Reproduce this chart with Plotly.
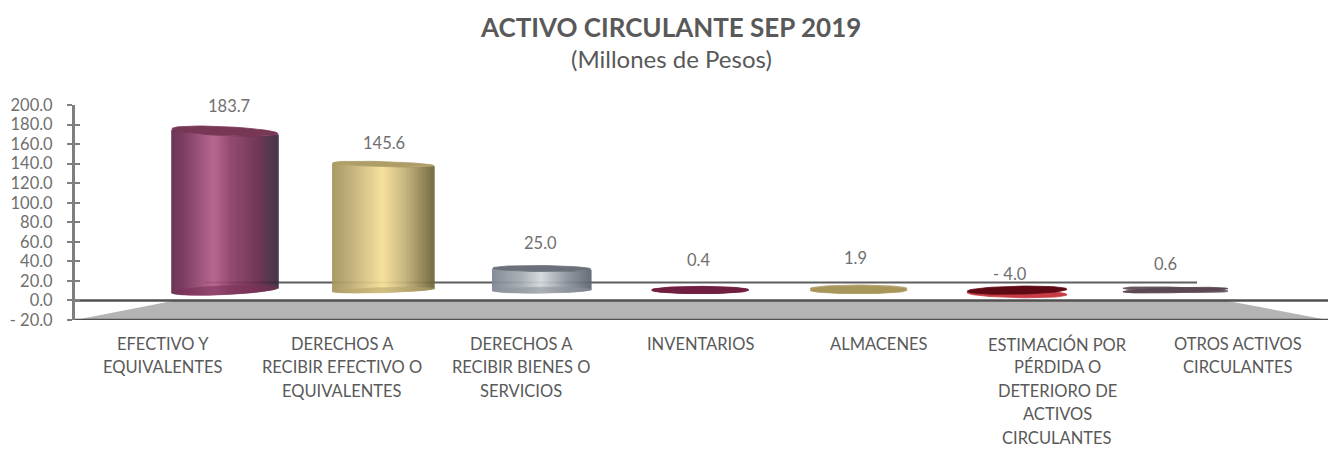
import math
import plotly.graph_objects as go

categories = [
    "EFECTIVO Y\nEQUIVALENTES",
    "DERECHOS A\nRECIBIR EFECTIVO O\nEQUIVALENTES",
    "DERECHOS A\nRECIBIR BIENES O\nSERVICIOS",
    "INVENTARIOS",
    "ALMACENES",
    "ESTIMACIÓN POR\nPÉRDIDA O\nDETERIORO DE\nACTIVOS\nCIRCULANTES",
    "OTROS ACTIVOS\nCIRCULANTES",
]
values = [183.7, 145.6, 25.0, 0.4, 1.9, -4.0, 0.6]
value_labels = ["183.7", "145.6", "25.0", "0.4", "1.9", "- 4.0", "0.6"]
y_ticks = [-20, 0, 20, 40, 60, 80, 100, 120, 140, 160, 180, 200]
y_tick_labels = ["- 20.0", "0.0", "20.0", "40.0", "60.0", "80.0", "100.0",
                 "120.0", "140.0", "160.0", "180.0", "200.0"]

# --- styling / geometry ---
W, H = 1328, 449
L, T, B = 75, 105, 320           # plot box in pixels
PX_PER_CAT = 158.4
X0_PX = 225
x_min = (L - X0_PX) / PX_PER_CAT
x_max = (W - X0_PX) / PX_PER_CAT
Y_MIN, Y_MAX = -20, 200
PX_PER_Y = (B - T) / (Y_MAX - Y_MIN)
BASE = 10.5       # 3-D depth offset of the cylinders' base
SCALE = 0.886     # foreshortening of the value axis in the 3-D scene

cyl_w_px = [106, 101, 98, 97, 97, 100, 105]
label_x_px = [163, 342, 521, 700, 879, 1057, 1238]
val_x_px = [229, 384, 540, 698, 855, 1010, 1165]
val_y_px = [106, 143, 243, 260, 258, 274, 264]
ramps = [
    [(0, "#5f2a48"), (.12, "#76305a"), (.40, "#b25d89"), (.55, "#8f3f68"), (.8, "#6b2a4b"), (1, "#38283a")],
    [(0, "#a39259"), (.15, "#b9a76e"), (.5, "#f6df98"), (.7, "#c9b67a"), (1, "#6f653a")],
    [(0, "#7c8490"), (.3, "#a5abb3"), (.5, "#d4d7db"), (.75, "#8f959d"), (1, "#5f6670")],
    [(0, "#701f40"), (1, "#701f40")],
    [(0, "#a8955a"), (.5, "#d9c67e"), (1, "#a8955a")],
    [(0, "#6a0c18"), (1, "#8a1420")],
    [(0, "#5a4853"), (1, "#4a3a45")],
]
cap_top = ["#6d2747", "#a8955a", "#5f6670", "#701f40", "#a8955a", "#c22b35", "#5a4853"]
cap_bot = ["#7a2f55", "#b5a266", "#8e949c", "#701f40", "#a8955a", "#5e0a15", "#5a4853"]
cap_alpha_bot = [.55, .55, .6, 1, 1, 1, 1]
SEMI_H_PX = [4.5, 2.5, 3, 3.5, 3.5, 4, 2.5]
TILT_PX = [2.5, 1.5, 0.5, 0, 0, 1, 1.5]
FLAT_BELOW = 5     # markers this small are seen as a single disc


def hex2rgb(h):
    return tuple(int(h[i:i + 2], 16) for i in (1, 3, 5))


def ramp(stops, t):
    for (a, ca), (b, cb) in zip(stops, stops[1:]):
        if t <= b:
            f = (t - a) / (b - a) if b > a else 0
            p, q = hex2rgb(ca), hex2rgb(cb)
            return "rgb(%d,%d,%d)" % tuple(round(p[k] + (q[k] - p[k]) * f) for k in range(3))
    return stops[-1][1]


def to_x(px):
    return (px - X0_PX) / PX_PER_CAT


def paper_x(px):
    return (px - L) / (W - L)


def paper_y(py):
    return (B - py) / (B - T)


fig = go.Figure()

# floor of the 3-D scene
fig.add_trace(go.Scatter(
    x=[x_min, to_x(175), to_x(1225), x_max], y=[-20, 0, 0, -20], mode="lines",
    fill="toself", fillcolor="#b4b4b4", line=dict(width=0), hoverinfo="skip",
    showlegend=False, yaxis="y"))
# back-wall base line, seen through the cylinders
fig.add_trace(go.Scatter(
    x=[to_x(205), to_x(1197)], y=[18.5, 18.5], mode="lines",
    line=dict(color="#5f5f5f", width=2), hoverinfo="skip", showlegend=False, yaxis="y"))
# zero line and bottom line
for yy in (0, -20):
    fig.add_trace(go.Scatter(
        x=[x_min, x_max], y=[yy, yy], mode="lines", cliponaxis=False,
        line=dict(color="#505050", width=2.5), hoverinfo="skip", showlegend=False, yaxis="y"))

# cylinders
for i, v in enumerate(values):
    w = cyl_w_px[i] / PX_PER_CAT
    top = BASE + SCALE * v
    a = SEMI_H_PX[i] / PX_PER_Y
    tilt = TILT_PX[i] / PX_PER_Y
    if abs(v) >= FLAT_BELOW:
        n = max(2, cyl_w_px[i] // 2)
        xs, ws, bases, hs, cols = [], [], [], [], []
        for k in range(n):
            t = (k + .5) / n
            u = 2 * t - 1
            arc = a * math.sqrt(max(0, 1 - u * u))
            lo = BASE - arc + tilt * u
            hi = top - arc - tilt * u
            xs.append(i - w / 2 + t * w)
            ws.append(w / n * 1.8)
            bases.append(lo)
            hs.append(max(hi - lo, 0))
            cols.append(ramp(ramps[i], t))
        fig.add_trace(go.Bar(x=xs, y=hs, base=bases, width=ws, marker=dict(color=cols, line=dict(width=0)),
                             opacity=.93, hoverinfo="skip", showlegend=False, yaxis="y2"))
    caps = [(BASE, cap_bot[i], 1, cap_alpha_bot[i]), (top, cap_top[i], -1, .92)]
    for yc, col, sgn, alpha in sorted(caps, key=lambda c: c[0]):
        ex, ey = [], []
        for deg in range(0, 361, 6):
            r = math.radians(deg)
            u = math.cos(r)
            ex.append(i + w / 2 * u)
            ey.append(yc + a * math.sin(r) + sgn * tilt * u)
        fig.add_trace(go.Scatter(x=ex, y=ey, mode="lines", fill="toself", fillcolor=col,
                                 line=dict(width=.8, color=col), opacity=alpha,
                                 hoverinfo="skip", showlegend=False, yaxis="y2"))

annotations = []


def note(px, py, txt, size, color):
    annotations.append(dict(x=paper_x(px), y=paper_y(py), xref="paper", yref="paper", text=txt, showarrow=False,
                            font=dict(family="Lato", size=size, color=color),
                            xanchor="center", yanchor="middle"))


for x_px, y_px, txt in zip(val_x_px, val_y_px, value_labels):
    note(x_px, y_px, txt, 16.5, "#6f6f6f")
for x_px, label in zip(label_x_px, categories):
    for j, line in enumerate(label.split("\n")):
        note(x_px, 344 + 23.4 * j, line, 16.5, "#595959")
note(671, 59, "(Millones de Pesos)", 24, "#595959")
note(670.5, 27, "<b>ACTIVO CIRCULANTE SEP 2019</b>", 26, "#595959")

fig.update_layout(
    width=W, height=H, margin=dict(l=L, r=0, t=T, b=H - B),
    paper_bgcolor="white", plot_bgcolor="white", barmode="overlay", showlegend=False,
    xaxis=dict(range=[x_min, x_max], showgrid=False, zeroline=False, showticklabels=False, ticks="", showline=False),
    yaxis=dict(range=[Y_MIN, Y_MAX], tickvals=y_ticks, ticktext=y_tick_labels, showgrid=False, zeroline=False,
               ticks="outside", ticklen=5, tickwidth=2, tickcolor="#7f7f7f", showline=True, linecolor="#7f7f7f",
               linewidth=3, ticklabelstandoff=11, tickfont=dict(family="Lato", size=16.5, color="#6f6f6f")),
    yaxis2=dict(range=[Y_MIN, Y_MAX], overlaying="y", side="left", anchor="x", tickvals=y_ticks,
                showticklabels=False, showgrid=False, zeroline=False, ticks="inside", ticklen=5, tickwidth=2,
                tickcolor="#7f7f7f", showline=False),
    annotations=annotations,
)
fig.write_html("out.html", config=dict(displayModeBar=False),
               post_script="document.body.style.margin='0';document.body.style.overflow='hidden';")
